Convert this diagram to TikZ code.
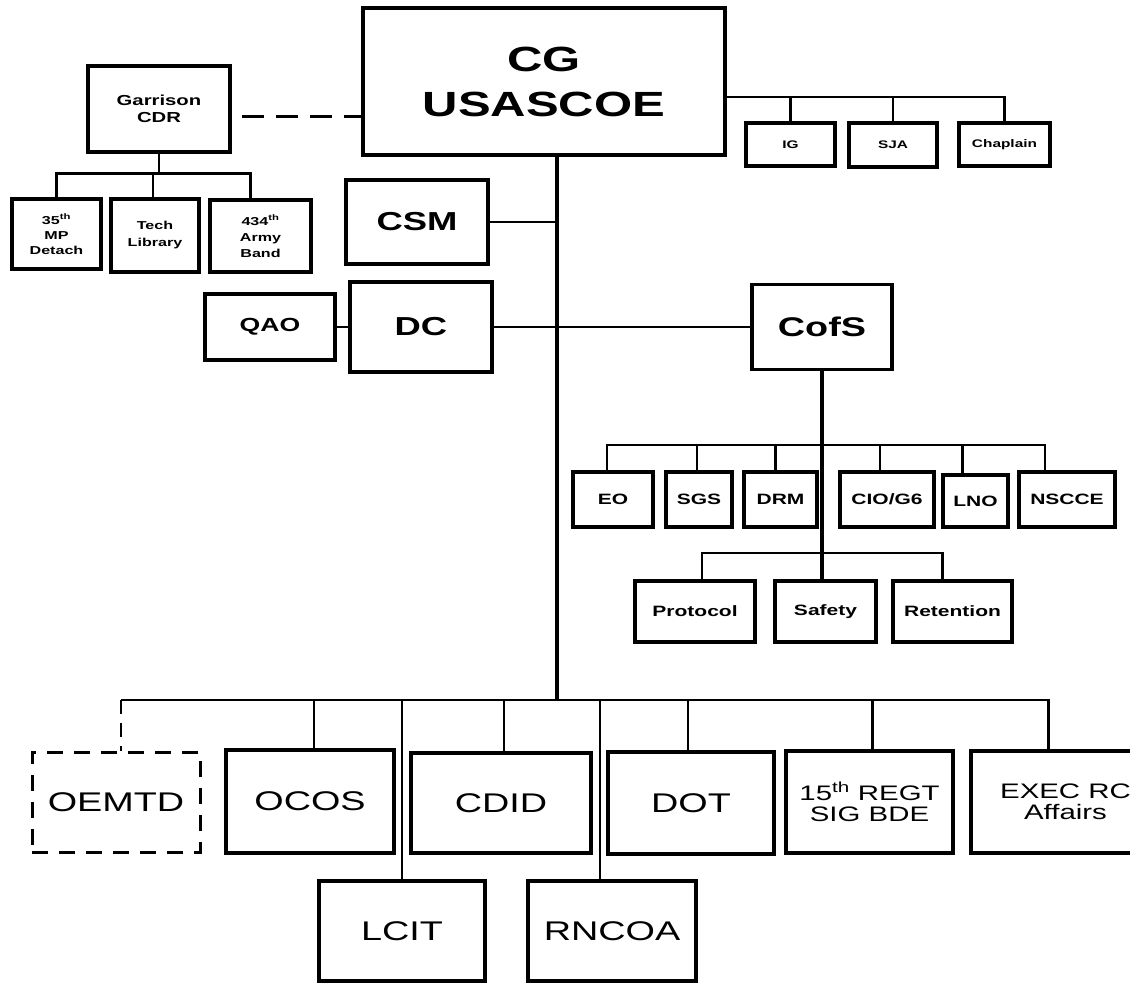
\documentclass[tikz,border=0pt]{standalone}
\usepackage{fontspec}
\setmainfont{Liberation Sans}
\newfontfamily\orgsans[FakeStretch=1.4]{Liberation Sans}
\usepackage{tikz}
\usetikzlibrary{calc}

\tikzset{
  orgbox/.style={draw, line width=3.2pt, inner sep=0pt, align=center},
  dashbox/.style={orgbox, line width=3pt, dash pattern=on 16pt off 11pt},
  boxsize/.style 2 args={minimum width=#1pt, minimum height=#2pt},
  txtbf/.style 2 args={font=\orgsans\bfseries\fontsize{#1}{#2}\selectfont},
  txt/.style 2 args={font=\orgsans\fontsize{#1}{#2}\selectfont},
  link/.style={line width=2.6pt},
  thinlink/.style={line width=2.2pt},
}

\begin{document}
\begin{tikzpicture}[x=1pt, y=-1pt]
\useasboundingbox (0,0) rectangle (1130,983);
\clip (0,0) rectangle (1130,983);

% command group
\node[orgbox, boxsize={362}{147}, txtbf={35}{45}] (cg) at (544,81.5) {CG\\USASCOE};
\node[orgbox, boxsize={142}{86}, txtbf={14.5}{17}] (garrison) at (159,109) {Garrison\\CDR};
\node[orgbox, boxsize={89}{70}, txtbf={11.5}{15}] (mp) at (56.5,234) {35\textsuperscript{th}\\MP\\Detach};
\node[orgbox, boxsize={88}{73}, txtbf={11.5}{17}] (techlib) at (155,235.5) {Tech\\Library};
\node[orgbox, boxsize={101}{72}, txtbf={11.5}{16}] (band) at (260.5,236) {434\textsuperscript{th}\\Army\\Band};

% personal staff
\node[orgbox, boxsize={89}{43}, txtbf={11}{13}] (ig) at (790.5,144.5) {IG};
\node[orgbox, boxsize={88}{44}, txtbf={11}{13}] (sja) at (893,145) {SJA};
\node[orgbox, boxsize={91}{43}, txtbf={11}{13}] (chap) at (1004.5,144.5) {Chaplain};

\node[orgbox, boxsize={142}{84}, txtbf={26}{30}] (csm) at (417,222) {CSM};
\node[orgbox, boxsize={130}{66}, txtbf={19}{22}] (qao) at (270,327) {QAO};
\node[orgbox, boxsize={142}{90}, txtbf={26}{30}] (dc) at (421,327) {DC};
\node[orgbox, boxsize={140}{85}, txtbf={27}{30}] (cofs) at (822,327) {CofS};

% coordinating staff
\node[orgbox, boxsize={80}{55}, txtbf={15}{18}] (eo) at (613,499.5) {EO};
\node[orgbox, boxsize={66}{55}, txtbf={15}{18}] (sgs) at (699,499.5) {SGS};
\node[orgbox, boxsize={73}{55}, txtbf={15}{18}] (drm) at (780.5,499.5) {DRM};
\node[orgbox, boxsize={94}{55}, txtbf={15}{18}] (cio) at (887,499.5) {CIO/G6};
\node[orgbox, boxsize={65}{52}, txtbf={15}{18}] (lno) at (975.5,501) {LNO};
\node[orgbox, boxsize={96}{55}, txtbf={15}{18}] (nscce) at (1067,499.5) {NSCCE};
\node[orgbox, boxsize={120}{61}, txtbf={15}{18}] (protocol) at (695,611.5) {Protocol};
\node[orgbox, boxsize={101}{61}, txtbf={15}{18}] (safety) at (825.5,611.5) {Safety};
\node[orgbox, boxsize={119}{61}, txtbf={15}{18}] (retention) at (952.5,611.5) {Retention};

% directorates
\node[dashbox, boxsize={168}{100}, txt={27}{30}] (oemtd) at (116,802) {OEMTD};
\node[orgbox, boxsize={168}{103}, txt={27}{30}] (ocos) at (310,801.5) {OCOS};
\node[orgbox, boxsize={180}{100}, txt={27}{30}] (cdid) at (501,803) {CDID};
\node[orgbox, boxsize={166}{102}, txt={27}{30}] (dot) at (691,803) {DOT};
\node[orgbox, boxsize={167}{102}, txt={21}{21}] (regt) at (869.5,802) {15\textsuperscript{th} REGT\\SIG BDE};
\node[orgbox, boxsize={189}{102}, txt={21}{21}] (exec) at (1065.5,802) {EXEC RC\\Affairs};
\node[orgbox, boxsize={166}{100}, txt={27}{30}] (lcit) at (402,931) {LCIT};
\node[orgbox, boxsize={168}{100}, txt={27}{30}] (rncoa) at (612,931) {RNCOA};

% links
\coordinate (cgdash) at (363,116);
\draw[line width=3pt, dash pattern=on 22pt off 12pt, dash phase=24pt] (cgdash -| garrison.east) -- (cgdash);
\foreach \c/\dx in {mp/0, techlib/-2, band/-10}
  \draw[link] (garrison.south) -- ++(0,20) -| ([xshift=\dx pt]\c.north);
\foreach \s in {ig,sja,chap}
  \draw[link] ([yshift=-15.5pt]cg.east) -| (\s.north);

% main trunk
\coordinate (hub) at (557,700);
\draw[line width=3.4pt] (cg.south -| hub) -- (hub);
\draw[thinlink] (csm.east) -- (csm.east -| hub);
\draw[thinlink] (dc.east) -- (dc.east -| cofs.west);
\draw[thinlink] (qao.east) -- (dc.west);

% under the chief of staff
\coordinate (cbus) at (822,445);
\coordinate (pbus) at (822,553);
\draw[line width=3.2pt] (cofs.south) -- (cofs.south |- safety.north);
\foreach \s/\dx in {eo/-6, sgs/-2, drm/-5, cio/-7, lno/-13, nscce/-22}
  \draw[link] (cofs.south |- cbus) -| ([xshift=\dx pt]\s.north);
\foreach \s/\dx in {protocol/7, retention/-10}
  \draw[link] (cofs.south |- pbus) -| ([xshift=\dx pt]\s.north);

% directorate bus
\draw[link] (hub) -- ([xshift=5pt]hub -| oemtd.north);
\draw[link, dash pattern=on 14pt off 9pt] ([xshift=5pt]hub -| oemtd.north) -- ([xshift=5pt]oemtd.north);
\foreach \u/\dx in {ocos/4, lcit/0, cdid/3, rncoa/-12, dot/-3, regt/3, exec/-17}
  \draw[link] (hub) -| ([xshift=\dx pt]\u.north);

\end{tikzpicture}
\end{document}
